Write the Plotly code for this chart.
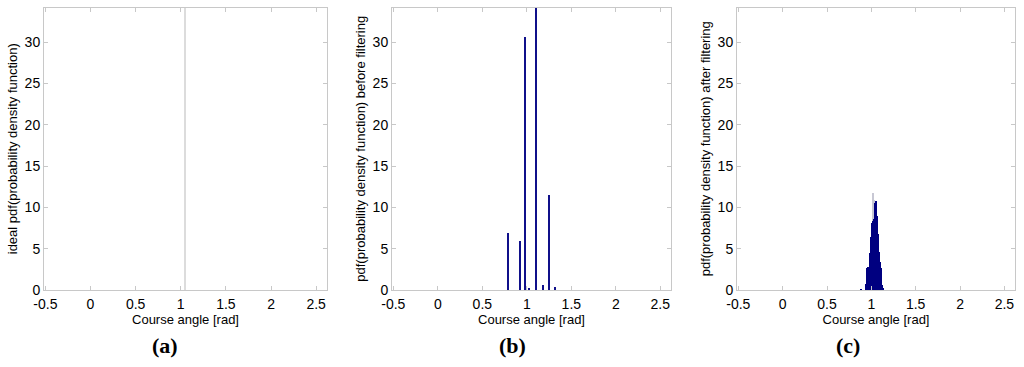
import plotly.graph_objects as go

# ---------------- data ----------------
# panel (a): ideal pdf (delta at pi/3, extends beyond the axis)
ideal_x = [1.0472]
ideal_y = [100.0]

# panel (b): pdf before filtering
before_x = [0.79, 0.928, 0.98, 1.03, 1.11, 1.186, 1.253, 1.32]
before_y = [7.0, 6.0, 30.7, 0.3, 36.0, 0.7, 11.6, 0.4]

# panel (c): pdf after filtering (histogram)
after_x = [0.885, 0.935, 0.945, 0.955, 0.965, 0.975, 0.985, 0.995, 1.005, 1.015,
           1.025, 1.035, 1.045, 1.055, 1.065, 1.075, 1.085, 1.095, 1.105, 1.115,
           1.125, 1.135]
after_y = [0.1, 0.8, 1.9, 2.7, 2.8, 2.9, 4.5, 6.5, 8.2, 8.4,
           8.6, 9.5, 10.6, 10.8, 9.0, 6.8, 4.7, 3.5, 2.7, 1.5,
           0.7, 0.3]
# light edge spikes of the histogram
spike_x = [1.018, 1.037]
spike_y = [11.8, 11.0]

x_ticks = [-0.5, 0, 0.5, 1, 1.5, 2, 2.5]
x_tick_text = ["-0.5", "0", "0.5", "1", "1.5", "2", "2.5"]
y_ticks = [0, 5, 10, 15, 20, 25, 30]

y_titles = ["ideal pdf(probability density function)",
            "pdf(probability density function) before filtering",
            "pdf(probability density function) after filtering"]
x_title = "Course angle [rad]"
captions = ["a", "b", "c"]

# ---------------- layout helpers ----------------
W, H = 1024, 367
x_domains = [(44, 327), (392, 671), (737, 1015)]
y_top, y_bot = 7.5, 290
caption_x = [165, 512, 848]
caption_y = 345

NAVY = "#000080"
FRAME = "#c8c8c8"
FONT = "Liberation Sans, Arial, sans-serif"

fig = go.Figure()

fig.add_trace(go.Bar(x=ideal_x, y=ideal_y, width=0.02, marker=dict(color="#dcdcdc", line_width=0),
                     xaxis="x", yaxis="y", showlegend=False))
fig.add_trace(go.Bar(x=before_x, y=before_y, width=0.014, marker=dict(color="#10108a", line_width=0),
                     xaxis="x2", yaxis="y2", showlegend=False))
fig.add_trace(go.Bar(x=spike_x, y=spike_y, width=0.004, marker=dict(color="#c8c8d4", line_width=0),
                     xaxis="x3", yaxis="y3", showlegend=False))
fig.add_trace(go.Bar(x=after_x, y=after_y, width=0.0101, marker=dict(color=NAVY, line_width=0),
                     xaxis="x3", yaxis="y3", showlegend=False))

layout = dict(
    width=W, height=H,
    margin=dict(l=0, r=0, t=0, b=0),
    paper_bgcolor="white", plot_bgcolor="white",
    font=dict(family=FONT, size=13, color="black"),
    barmode="overlay",
    bargap=0,
    annotations=[],
)

y_dom = [(H - y_bot) / H, (H - y_top) / H]
for i, (l, r) in enumerate(x_domains):
    sfx = "" if i == 0 else str(i + 1)
    layout["xaxis" + sfx] = dict(
        domain=[l / W, r / W], anchor="y" + sfx,
        range=[-0.515, 2.62], tickvals=x_ticks, ticktext=x_tick_text,
        ticks="inside", ticklen=4, tickcolor=FRAME, showline=True, linecolor=FRAME,
        linewidth=1, mirror="ticks", showgrid=False, zeroline=False,
        tickfont=dict(size=14), automargin=False, ticklabelstandoff=1,
        title=dict(text=x_title, font=dict(size=13), standoff=2),
    )
    layout["yaxis" + sfx] = dict(
        domain=y_dom, anchor="x" + sfx,
        range=[0, 34.2], tickvals=y_ticks,
        ticks="inside", ticklen=4, tickcolor=FRAME, showline=True, linecolor=FRAME,
        linewidth=1, mirror="ticks", showgrid=False, zeroline=False,
        tickfont=dict(size=14), automargin=False,
        title=dict(text=y_titles[i], font=dict(size=13), standoff=4),
    )
    layout["annotations"].append(dict(
        text="<b>(" + captions[i] + ")</b>", x=caption_x[i] / W, y=(H - caption_y) / H,
        xref="paper", yref="paper", showarrow=False, xanchor="center", yanchor="middle",
        font=dict(family="Liberation Serif, Times New Roman, serif", size=22, color="black"),
    ))

fig.update_layout(**layout)
fig.write_html("out.html", config={"displayModeBar": False},
               post_script="document.body.style.margin='0px';")
